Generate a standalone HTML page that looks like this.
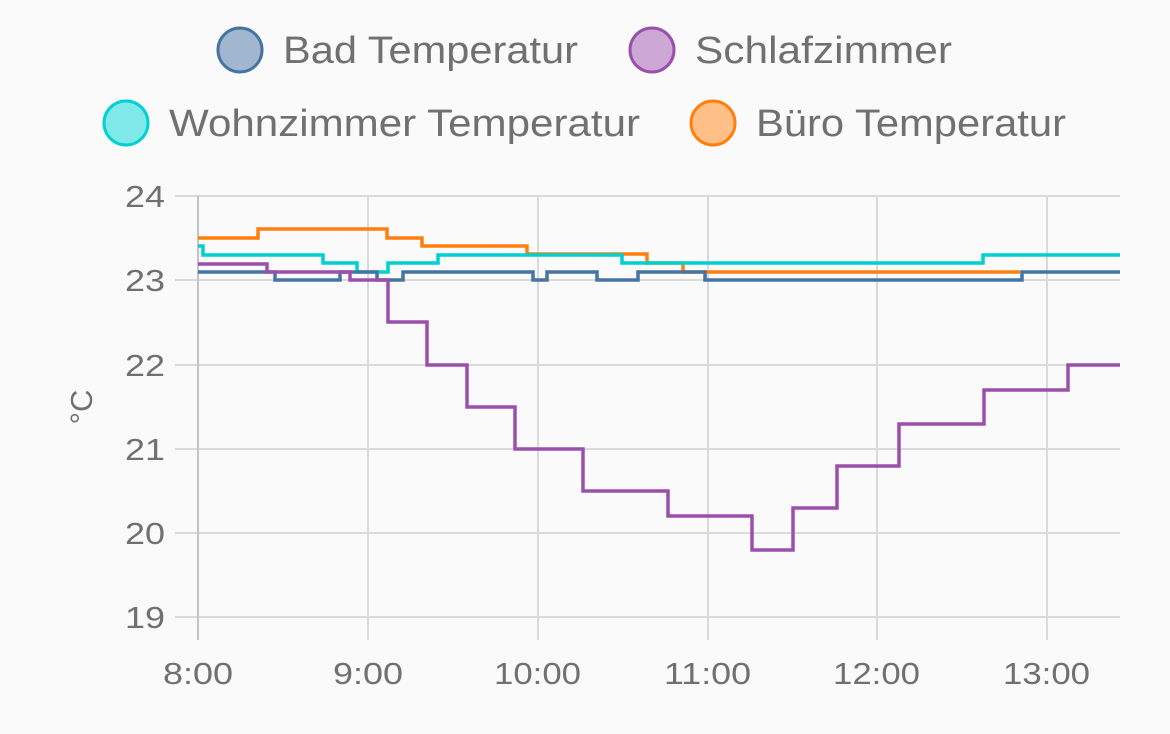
<!DOCTYPE html>
<html><head><style>
html,body{margin:0;padding:0;background:#fafafa;}
svg{display:block;font-family:"Liberation Sans",sans-serif;}
</style></head><body>
<svg width="1170" height="734" viewBox="0 0 1170 734">
<rect width="1170" height="734" fill="#fafafa"/>
<g stroke="#dadada" stroke-width="2">
<line x1="175" y1="196" x2="1120" y2="196"/>
<line x1="175" y1="280" x2="1120" y2="280"/>
<line x1="175" y1="365" x2="1120" y2="365"/>
<line x1="175" y1="449" x2="1120" y2="449"/>
<line x1="175" y1="533" x2="1120" y2="533"/>
<line x1="175" y1="617" x2="1120" y2="617"/>
<line x1="368" y1="196" x2="368" y2="640"/>
<line x1="538" y1="196" x2="538" y2="640"/>
<line x1="708" y1="196" x2="708" y2="640"/>
<line x1="877" y1="196" x2="877" y2="640"/>
<line x1="1047" y1="196" x2="1047" y2="640"/>
</g>
<line x1="198" y1="196" x2="198" y2="640" stroke="#c4c4c4" stroke-width="2"/>
<g fill="none" stroke-width="3.5">
<polyline stroke="#ff7f0e" points="198,238 258,238 258,229 387,229 387,238 422,238 422,246 527,246 527,254 647,254 647,263 683,263 683,272 1020,272"/>
<polyline stroke="#00d0d0" points="198,246 203,246 203,255 323,255 323,263 357,263 357,272 388,272 388,263 438,263 438,255 622,255 622,263 983,263 983,255 1120,255"/>
<polyline stroke="#4574a3" points="198,272 275,272 275,280 340,280 340,272 377,272 377,280 403,280 403,272 533,272 533,280 547,280 547,272 597,272 597,280 638,280 638,272 705,272 705,280 1022,280 1022,272 1120,272"/>
<polyline stroke="#9b4fad" points="198,264 267,264 267,272 350,272 350,280 388,280 388,322 427,322 427,365 467,365 467,407 515,407 515,449 583,449 583,491 668,491 668,516 752,516 752,550 793,550 793,508 837,508 837,466 899,466 899,424 984,424 984,390 1068,390 1068,365 1120,365"/>
</g>
<g fill="#707070" font-size="31" text-anchor="end">
<text x="165" y="207" textLength="40" lengthAdjust="spacingAndGlyphs">24</text><text x="165" y="291" textLength="40" lengthAdjust="spacingAndGlyphs">23</text><text x="165" y="376" textLength="40" lengthAdjust="spacingAndGlyphs">22</text>
<text x="165" y="460" textLength="40" lengthAdjust="spacingAndGlyphs">21</text><text x="165" y="544" textLength="40" lengthAdjust="spacingAndGlyphs">20</text><text x="165" y="628" textLength="40" lengthAdjust="spacingAndGlyphs">19</text>
</g>
<g fill="#707070" font-size="31">
<text x="163" y="684" textLength="70" lengthAdjust="spacingAndGlyphs">8:00</text>
<text x="333" y="684" textLength="70" lengthAdjust="spacingAndGlyphs">9:00</text>
<text x="494" y="684" textLength="87" lengthAdjust="spacingAndGlyphs">10:00</text>
<text x="664" y="684" textLength="87" lengthAdjust="spacingAndGlyphs">11:00</text>
<text x="833" y="684" textLength="87" lengthAdjust="spacingAndGlyphs">12:00</text>
<text x="1003" y="684" textLength="87" lengthAdjust="spacingAndGlyphs">13:00</text>
</g>
<text transform="translate(92,407) rotate(-90)" fill="#707070" font-size="31" text-anchor="middle">°C</text>
<g font-size="38" fill="#707070">
<circle cx="240" cy="50" r="22" fill="#a0b7cf" stroke="#4574a3" stroke-width="3"/>
<text x="283" y="63" textLength="295" lengthAdjust="spacingAndGlyphs">Bad Temperatur</text>
<circle cx="652" cy="50" r="22" fill="#cda7d6" stroke="#9b4fad" stroke-width="3"/>
<text x="695" y="63" textLength="257" lengthAdjust="spacingAndGlyphs">Schlafzimmer</text>
<circle cx="126" cy="123" r="22" fill="#7fe8e8" stroke="#00d0d0" stroke-width="3"/>
<text x="169" y="136" textLength="471" lengthAdjust="spacingAndGlyphs">Wohnzimmer Temperatur</text>
<circle cx="713" cy="123" r="22" fill="#ffbf86" stroke="#ff7f0e" stroke-width="3"/>
<text x="756" y="136" textLength="310" lengthAdjust="spacingAndGlyphs">Büro Temperatur</text>
</g>
</svg>
</body></html>
